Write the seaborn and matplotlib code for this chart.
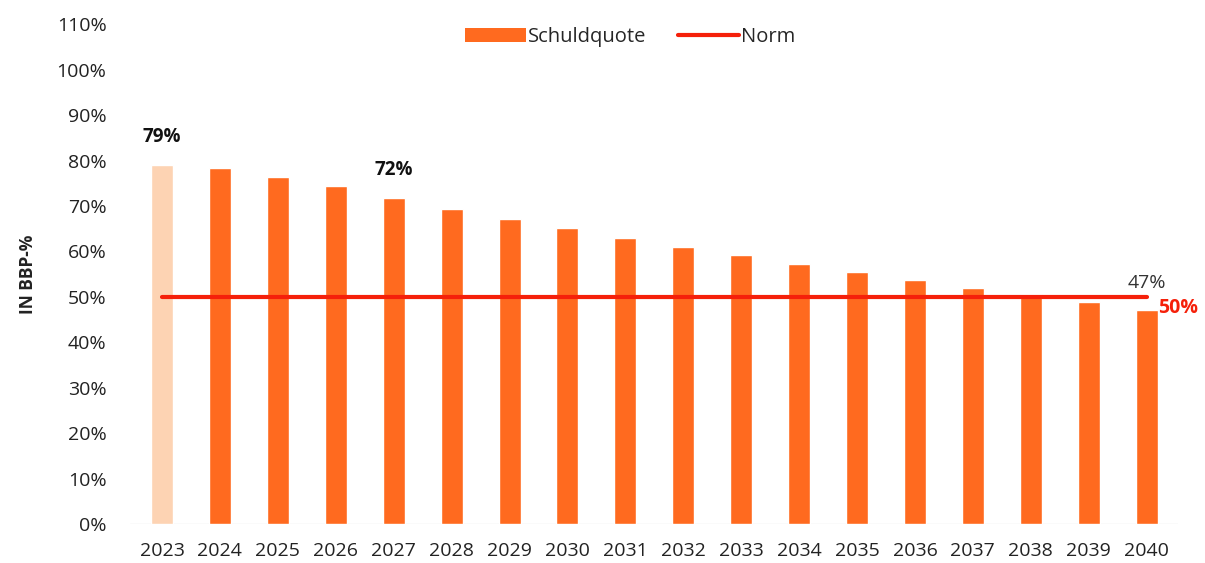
import matplotlib
matplotlib.use("Agg")
import matplotlib.pyplot as plt
import seaborn as sns
import pandas as pd
from matplotlib.patches import Patch
from matplotlib.lines import Line2D

years = [str(y) for y in range(2023, 2041)]
schuldquote = [79.0, 78.4, 76.4, 74.4, 71.8, 69.4, 67.2, 65.2, 63.0, 61.0,
               59.2, 57.3, 55.4, 53.7, 51.9, 50.6, 48.8, 47.1]
norm = [50.0] * len(years)
ytick_vals = list(range(0, 111, 10))
ytick_labels = [f"{v}%" for v in ytick_vals]

sns.set_theme(style="white")
plt.rcParams['font.family'] = ['Open Sans', 'DejaVu Sans']

bar_col = "#FF6A1F"
first_col = "#FDD3B3"
line_col = "#F5200A"

df = pd.DataFrame({"year": years, "value": schuldquote, "norm": norm})
palette = {y: (first_col if i == 0 else bar_col) for i, y in enumerate(years)}

fig = plt.figure(figsize=(12.05, 5.63), dpi=100)
ax = fig.add_axes([0.108, 0.069, 0.870, 0.888])

sns.barplot(data=df, x="year", y="value", hue="year", palette=palette,
            width=0.38, legend=False, ax=ax, saturation=1)
sns.lineplot(data=df, x="year", y="norm", color=line_col, linewidth=3, ax=ax,
             sort=False)

ax.set_ylim(0, 110)
ax.set_xlim(-0.55, 17.55)
ax.set_yticks(ytick_vals)
ax.set_yticklabels(ytick_labels, fontsize=14, color="#222222")
ax.tick_params(axis="x", labelsize=14, colors="#222222", length=0, pad=13)
ax.tick_params(axis="y", length=0, pad=17)
ax.set_xlabel("")
ax.set_ylabel("IN BBP-%", fontsize=12.5, fontweight="bold", color="#222222", labelpad=14)
for s in ax.spines.values():
    s.set_visible(False)
ax.axhline(0, color="#E6E6E6", linewidth=1, zorder=0)

ax.text(0, schuldquote[0] + 4, f"{schuldquote[0]:.0f}%", ha="center", va="bottom",
        fontsize=13.5, fontweight="bold", color="#111111")
ax.text(4, schuldquote[4] + 4, f"{schuldquote[4]:.0f}%", ha="center", va="bottom",
        fontsize=13.5, fontweight="bold", color="#111111")
ax.text(17, 51.0, f"{schuldquote[-1]:.0f}%", ha="center", va="bottom",
        fontsize=14, color="#333333")
ax.text(17.2, norm[-1] - 0.3, f"{norm[-1]:.0f}%", ha="left", va="top",
        fontsize=14, fontweight="bold", color=line_col)

handles = [Patch(facecolor=bar_col, edgecolor="none"),
           Line2D([0], [0], color=line_col, linewidth=3)]
ax.legend(handles, ["Schuldquote", "Norm"], loc="upper center",
          bbox_to_anchor=(0.477, 1.03), ncol=2, frameon=False, fontsize=14.5,
          handlelength=3.0, handletextpad=0.1, columnspacing=1.6)

fig.savefig("out.png", dpi=100)
